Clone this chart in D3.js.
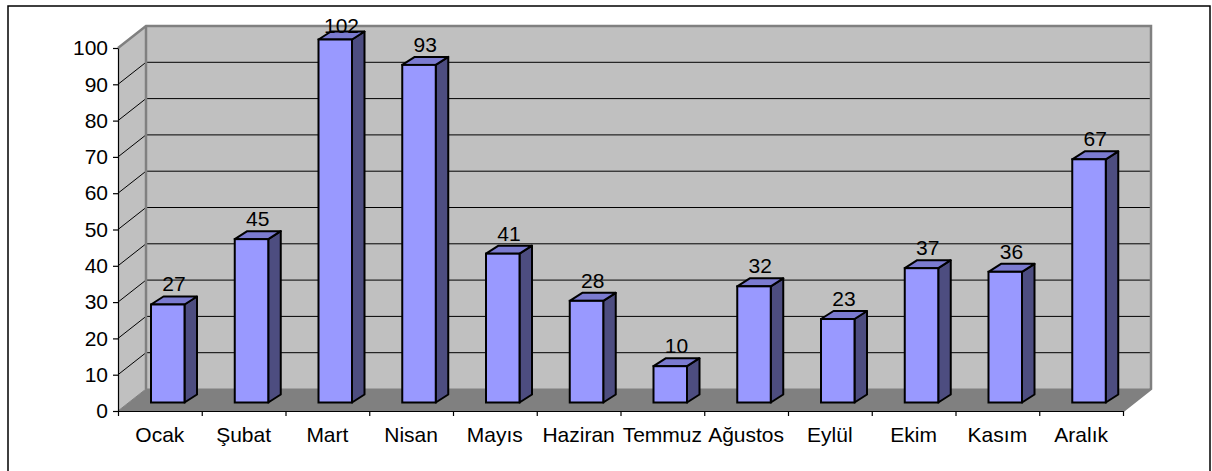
<!DOCTYPE html>
<html>
<head>
<meta charset="utf-8">
<script src="https://cdn.jsdelivr.net/npm/d3@7"></script>
<style>
  body { margin: 0; background: #fff; }
  text { font-family: "Liberation Sans", Arial, sans-serif; fill: #000; }
</style>
</head>
<body>
<svg id="chart" width="1212" height="471"></svg>
<script>
var months = ['Ocak', 'Şubat', 'Mart', 'Nisan', 'Mayıs', 'Haziran', 'Temmuz', 'Ağustos', 'Eylül', 'Ekim', 'Kasım', 'Aralık'];
var values = [27, 45, 102, 93, 41, 28, 10, 32, 23, 37, 36, 67];
var yTicks = [0, 10, 20, 30, 40, 50, 60, 70, 80, 90, 100];

(function() {
    var options = {
        left: 118,
        right: 1123,
        top: 48,
        bottom: 411,
        depthX: 28,
        depthY: -22,
        barOffset: 33,
        barWidth: 33.5,
        barFrontX: 0,
        barFrontY: -8.5,
        barDepthX: 12.5,
        barDepthY: -8,
        fontSize: 21
    };

    var svg = d3.select('#chart');

    // outer frame
    svg.append('rect')
        .attr('x', 8).attr('y', 6)
        .attr('width', 1202).attr('height', 470)
        .attr('fill', '#fff')
        .attr('stroke', '#000')
        .attr('stroke-width', 1.5);

    var x = d3.scaleBand()
        .domain(months)
        .range([options.left, options.right]);

    var xEdge = d3.scaleLinear()
        .domain([0, months.length])
        .range([options.left, options.right]);

    var y = d3.scaleLinear()
        .domain([0, 100])
        .range([options.bottom, options.top]);

    var dx = options.depthX, dy = options.depthY;
    var pts = function(list) { return list.map(function(p) { return p.join(','); }).join(' '); };

    // back wall
    svg.append('polygon')
        .attr('points', pts([
            [options.left + dx, y(100) + dy], [options.right + dx, y(100) + dy],
            [options.right + dx, y(0) + dy], [options.left + dx, y(0) + dy]
        ]))
        .attr('fill', '#c0c0c0');

    // side wall
    svg.append('polygon')
        .attr('points', pts([
            [options.left, y(0)], [options.left, y(100)],
            [options.left + dx, y(100) + dy], [options.left + dx, y(0) + dy]
        ]))
        .attr('fill', '#c0c0c0');

    // gridlines
    yTicks.filter(function(v) { return v > 0 && v < 100; }).forEach(function(v) {
        svg.append('polyline')
            .attr('points', pts([
                [options.left, y(v)], [options.left + dx, y(v) + dy], [options.right + dx, y(v) + dy]
            ]))
            .attr('fill', 'none')
            .attr('stroke', '#000')
            .attr('stroke-width', 1);
    });

    // floor
    svg.append('polygon')
        .attr('points', pts([
            [options.left, y(0)], [options.right, y(0)],
            [options.right + dx, y(0) + dy], [options.left + dx, y(0) + dy]
        ]))
        .attr('fill', '#808080')
        .attr('stroke', '#808080')
        .attr('stroke-width', 1);

    // wall edges
    svg.append('polyline')
        .attr('points', pts([
            [options.left, y(100)], [options.left + dx, y(100) + dy],
            [options.right + dx, y(100) + dy], [options.right + dx, y(0) + dy],
            [options.right, y(0)]
        ]))
        .attr('fill', 'none')
        .attr('stroke', '#808080')
        .attr('stroke-width', 2.5);

    svg.append('line')
        .attr('x1', options.left + dx).attr('y1', y(100) + dy)
        .attr('x2', options.left + dx).attr('y2', y(0) + dy)
        .attr('stroke', '#808080')
        .attr('stroke-width', 2.5);

    // y axis
    var yAxis = svg.append('g')
        .attr('transform', 'translate(' + options.left + ',0)')
        .call(d3.axisLeft(y).tickValues(yTicks).tickSize(5).tickPadding(5).tickSizeOuter(0));

    yAxis.select('.domain').attr('stroke', '#000').attr('stroke-width', 1.2);
    yAxis.selectAll('.tick line').attr('stroke', '#000').attr('stroke-width', 1.2);
    yAxis.selectAll('.tick text')
        .style('font-family', '"Liberation Sans", Arial, sans-serif')
        .style('font-size', options.fontSize + 'px')
        .attr('fill', '#000');

    // x axis
    var xAxis = svg.append('g')
        .attr('transform', 'translate(0,' + options.bottom + ')')
        .call(d3.axisBottom(xEdge).tickValues(d3.range(0, months.length + 1)).tickSize(5).tickFormat('').tickSizeOuter(0));

    xAxis.select('.domain').attr('stroke', '#000').attr('stroke-width', 1.2);
    xAxis.selectAll('.tick line').attr('stroke', '#000').attr('stroke-width', 1.2);

    svg.append('g').selectAll('text')
        .data(months)
        .enter().append('text')
        .attr('x', function(d) { return x(d) + x.bandwidth() / 2; })
        .attr('y', 442)
        .attr('text-anchor', 'middle')
        .style('font-size', options.fontSize + 'px')
        .text(function(d) { return d; });

    // bars
    var bars = svg.append('g');

    months.forEach(function(month, i) {
        var v = Math.min(values[i], 100);
        var x0 = x(month) + options.barOffset;
        var x1 = x0 + options.barWidth;
        var yb = y(0) + options.barFrontY;
        var yt = yb - (y(0) - y(v));
        var bx = options.barDepthX, by = options.barDepthY;

        var bar = bars.append('g');

        bar.append('polygon')
            .attr('points', pts([[x1, yb], [x1, yt], [x1 + bx, yt + by], [x1 + bx, yb + by]]))
            .attr('fill', '#4d4d80')
            .attr('stroke', '#000')
            .attr('stroke-width', 2)
            .attr('stroke-linejoin', 'round');

        bar.append('polygon')
            .attr('points', pts([[x0, yt], [x1, yt], [x1 + bx, yt + by], [x0 + bx, yt + by]]))
            .attr('fill', '#7b7bd0')
            .attr('stroke', '#000')
            .attr('stroke-width', 2)
            .attr('stroke-linejoin', 'round');

        bar.append('rect')
            .attr('x', x0).attr('y', yt)
            .attr('width', options.barWidth)
            .attr('height', yb - yt)
            .attr('fill', '#9999ff')
            .attr('stroke', '#000')
            .attr('stroke-width', 2);

        bar.append('text')
            .attr('x', (x0 + x1) / 2 + bx / 2)
            .attr('y', Math.max(yt + by - 5, 33))
            .attr('text-anchor', 'middle')
            .style('font-size', options.fontSize + 'px')
            .text(values[i]);
    });
})();
</script>
</body>
</html>
